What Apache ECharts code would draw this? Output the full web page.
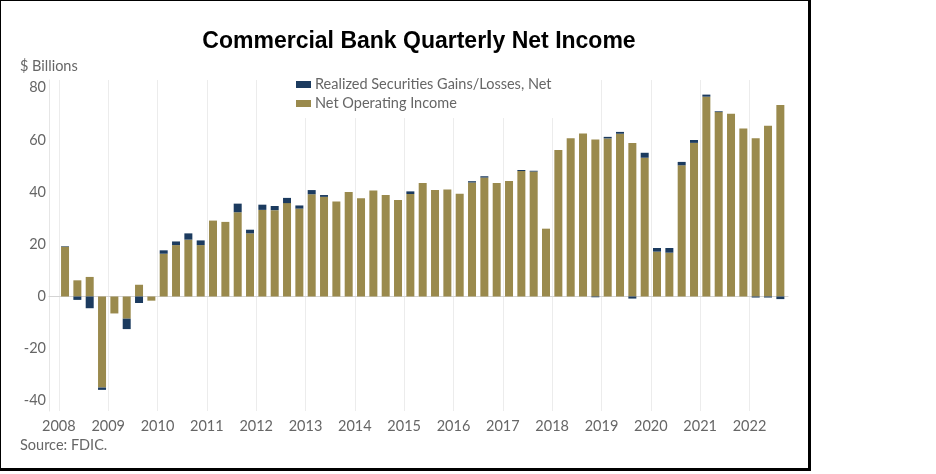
<!DOCTYPE html>
<html>
<head>
<meta charset="utf-8">
<script src="https://cdn.jsdelivr.net/npm/echarts@6/dist/echarts.min.js"></script>
<style>
html,body{margin:0;padding:0;background:#fff;}
#chart{width:936px;height:474px;position:relative;}
#frame{position:absolute;left:0;top:0;width:811px;height:471px;box-sizing:border-box;border-left:1px solid #000;border-top:1px solid #000;border-right:3px solid #000;border-bottom:3px solid #000;pointer-events:none;}
</style>
</head>
<body>
<div style="position:relative;width:936px;height:474px;">
<div id="chart"></div>
<div id="frame"></div>
</div>
<script>
const quarters = [
  '2008Q1','2008Q2','2008Q3','2008Q4','2009Q1','2009Q2','2009Q3','2009Q4',
  '2010Q1','2010Q2','2010Q3','2010Q4','2011Q1','2011Q2','2011Q3','2011Q4',
  '2012Q1','2012Q2','2012Q3','2012Q4','2013Q1','2013Q2','2013Q3','2013Q4',
  '2014Q1','2014Q2','2014Q3','2014Q4','2015Q1','2015Q2','2015Q3','2015Q4',
  '2016Q1','2016Q2','2016Q3','2016Q4','2017Q1','2017Q2','2017Q3','2017Q4',
  '2018Q1','2018Q2','2018Q3','2018Q4','2019Q1','2019Q2','2019Q3','2019Q4',
  '2020Q1','2020Q2','2020Q3','2020Q4','2021Q1','2021Q2','2021Q3','2021Q4',
  '2022Q1','2022Q2','2022Q3'
];
const netOperatingIncome = [
  19.1, 6.2, 7.5, -34.9, -6.5, -8.5, 4.5, -1.6,
  16.4, 19.7, 21.8, 19.7, 29.1, 28.6, 32.3, 24.2,
  33.2, 33.1, 35.8, 33.7, 39.2, 38.2, 36.4, 40.1,
  37.7, 40.6, 38.9, 37.0, 39.3, 43.5, 40.8, 41.0,
  39.4, 43.7, 45.6, 43.5, 44.3, 48.1, 47.9, 26.0,
  56.2, 60.7, 62.5, 60.2, 60.6, 62.4, 58.8, 53.2,
  17.2, 16.8, 50.3, 58.9, 76.6, 70.7, 70.1, 64.4,
  60.7, 65.5, 73.4
];
const realizedGainsLosses = [
  0.2, -1.3, -4.5, -0.9, 0, -4.0, -2.5, 0,
  1.3, 1.4, 2.4, 1.8, 0, 0, 3.3, 1.4,
  2.0, 1.6, 2.0, 1.2, 1.6, 0.7, 0, 0,
  0, 0, 0, 0, 1.0, 0, 0, 0,
  0, 0.5, 0.5, 0, 0, 0.4, 0.3, 0,
  0, 0, 0, -0.3, 0.6, 0.7, -0.8, 1.9,
  1.4, 1.8, 1.3, 1.1, 0.8, 0.3, 0, 0,
  -0.4, -0.4, -1.0
];
const yearTicks = [2008,2009,2010,2011,2012,2013,2014,2015,2016,2017,2018,2019,2020,2021,2022];
const valueTicks = [-40,-20,0,20,40,60,80];

const seriesNames = ['Realized Securities Gains/Losses, Net','Net Operating Income'];
const colors = {sec:'#1c3b5f', op:'#9a8a4d'};

// layout: year scale of the frame axis, and the bar band axis aligned to it
const X_MIN = 2007.8, X_MAX = 2022.78;
const PLOT_L = 49, PLOT_R = 788, TOP = 80, BOTTOM = 63, W = 936;
const pxPerYear = (PLOT_R - PLOT_L) / (X_MAX - X_MIN);
const barLeft = PLOT_L + (2008 - X_MIN) * pxPerYear;
const barWidthTotal = quarters.length * pxPerYear / 4;
const barRight = W - barLeft - barWidthTotal;
const Y_MIN = -43.9, Y_MAX = 83;

const font = 'Lato, "Noto Sans", sans-serif';
const chart = echarts.init(document.getElementById('chart'), null, {renderer:'canvas'});
chart.setOption({
  animation:false,
  backgroundColor:'#fff',
  title:{
    text:'Commercial Bank Quarterly Net Income',
    left:414, top:25, textAlign:'center',
    textStyle:{fontFamily:'"Liberation Sans", Arial, sans-serif', fontWeight:'bold', fontSize:23, color:'#000'}
  },
  graphic:[
    {type:'text', left:20, top:59, style:{text:'$ Billions', font:'14.5px '+font, fill:'#666'}},
    {type:'text', left:20, top:438, style:{text:'Source: FDIC.', font:'14.5px '+font, fill:'#666'}}
  ],
  legend:{
    orient:'vertical',
    left:291, top:75,
    padding:[2,10,7,5],
    backgroundColor:'#fff',
    itemWidth:15, itemHeight:7, itemGap:4,
    icon:'rect',
    data:[seriesNames[0], seriesNames[1]],
    textStyle:{fontFamily:font, fontSize:14.5, color:'#666', padding:[0,0,0,-1]}
  },
  grid:[
    {left:PLOT_L, right:W - PLOT_R, top:TOP, bottom:BOTTOM},
    {left:barLeft, right:barRight, top:TOP, bottom:BOTTOM}
  ],
  xAxis:[
    {
      type:'value', gridIndex:0,
      min:X_MIN, max:X_MAX,
      axisLine:{show:true, onZero:true, lineStyle:{color:'#d4d4d4', width:1}},
      axisTick:{show:false, customValues:yearTicks},
      axisLabel:{customValues:yearTicks, color:'#666', fontFamily:font, fontSize:14.5, margin:8,
        formatter:(v)=>String(Math.round(v))},
      splitLine:{show:true, lineStyle:{color:'#ececec', width:1}}
    },
    {
      type:'category', gridIndex:1, data:quarters, boundaryGap:true, show:false
    }
  ],
  yAxis:[
    {
      type:'value', gridIndex:0,
      min:Y_MIN, max:Y_MAX,
      axisLine:{show:true, lineStyle:{color:'#e6e6e6'}},
      axisTick:{show:false},
      axisLabel:{customValues:valueTicks, color:'#666', fontFamily:font, fontSize:14.5, margin:3},
      splitLine:{show:false}
    },
    {
      type:'value', gridIndex:1, min:Y_MIN, max:Y_MAX, show:false, splitLine:{show:false}
    }
  ],
  series:[
    {name:seriesNames[1], type:'bar', stack:'total', barWidth:8, xAxisIndex:1, yAxisIndex:1,
     data:netOperatingIncome, itemStyle:{color:colors.op}},
    {name:seriesNames[0], type:'bar', stack:'total', barWidth:8, xAxisIndex:1, yAxisIndex:1,
     data:realizedGainsLosses, itemStyle:{color:colors.sec}}
  ]
});
</script>
</body>
</html>
